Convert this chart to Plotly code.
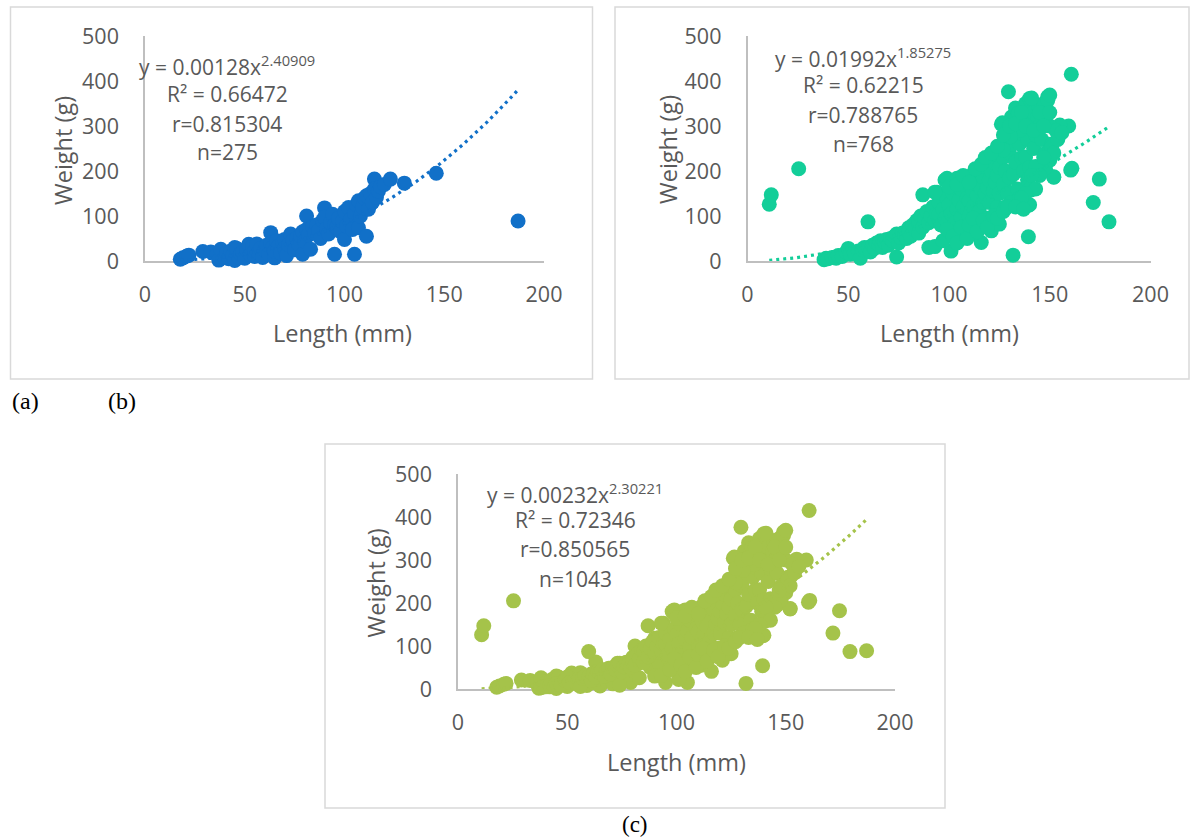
import numpy as np
import plotly.graph_objects as go

# ---- data: length (mm) and weight (g) ----
length_a = [17.7, 19, 21, 22, 29, 33, 36, 37, 38, 40, 41, 42, 43, 44, 45, 45, 46, 47, 48, 49,
            50, 51, 52, 53, 54, 55, 55, 56, 57, 58, 59, 60, 61, 62, 63, 63, 64, 65, 65, 66,
            67, 68, 69, 70, 70, 71, 72, 73, 74, 75, 76, 77, 78, 79, 79, 80, 81, 81, 82, 83,
            84, 85, 86, 87, 88, 89, 90, 90, 91, 92, 93, 94, 95, 95, 96, 97, 98, 99, 100, 100,
            101, 102, 103, 104, 105, 105, 106, 107, 107, 108, 109, 110, 111, 111, 112, 113, 114, 115, 115, 116,
            117, 118, 120, 123, 130, 146, 187]
weight_a = [4, 7, 11, 13, 21, 20, 14, 2, 26, 8, 18, 5, 22, 12, 30, 1, 28, 8, 16, 20,
            6, 25, 37, 14, 33, 10, 22, 38, 18, 28, 8, 24, 35, 15, 63, 40, 30, 7, 22, 45,
            33, 18, 40, 48, 28, 12, 36, 60, 45, 25, 50, 38, 56, 15, 65, 44, 100, 70, 58, 26,
            76, 62, 80, 67, 50, 90, 118, 97, 72, 60, 85, 104, 15, 80, 74, 95, 65, 88, 48, 110,
            78, 119, 92, 70, 15, 105, 125, 74, 134, 100, 120, 140, 55, 145, 115, 150, 130, 182, 160, 141,
            155, 165, 170, 182, 173, 195, 89]

length_b = [10.8, 11.8, 25.4, 59.8, 131.8, 139.4, 129.5, 160.7, 171.6, 174.6, 179.4, 160.4, 159.4, 155,
            38, 39, 40, 42, 44, 45, 47, 49, 50, 51, 53, 55, 56, 57, 58, 60, 61, 62, 63, 64,
            65, 66, 67, 68, 69, 70, 71, 72, 73, 74, 74, 75, 76, 77, 78, 79, 80, 80,
            81, 82, 83, 84, 85, 85, 86, 87, 87, 88, 89, 90, 90, 91, 92, 93, 93, 94, 94, 95,
            95, 96, 97, 98, 98, 99, 100, 100, 101, 101, 102, 103, 103, 104, 105, 105, 106, 106, 107, 108, 108,
            109, 110, 110, 111, 111, 112, 112, 113, 113, 114, 114, 115, 115, 116, 116, 117, 117, 118, 118, 119,
            119, 120, 120, 121, 121, 122, 122, 123, 123, 124, 124, 125, 125, 125,
            126, 126, 127, 127, 128, 128, 129, 129, 130, 130, 131, 131, 132, 132, 133, 133, 134, 134, 135, 135,
            136, 136, 137, 137, 138, 138, 139, 139, 140, 140, 140, 140.7, 141, 142, 142, 143, 144, 144.5, 145, 146,
            147, 148, 148, 149, 149, 150, 150, 151, 152, 153,
            141, 150, 134.5, 148, 151, 150, 152, 147.5, 161, 140.5, 139.5, 127, 135.5, 130.5, 99, 104, 93, 126.5,
            128, 131, 135,
            97, 99, 102, 104, 106, 109, 110, 112, 114, 117, 119, 122, 124, 127, 129,
            100, 104, 107, 110, 113, 116, 118, 121, 124, 127, 130, 133, 136, 138, 142,
            145, 147, 150, 152, 154, 156, 143, 145, 147, 141, 143, 138, 136, 133, 137]
weight_b = [126, 147, 205, 87, 13, 54, 376, 415, 130, 182, 87, 202, 300, 302,
            3, 6, 5, 8, 6, 12, 10, 20, 28, 15, 18, 22, 6, 25, 30, 30, 20, 35, 28, 40,
            38, 45, 30, 42, 48, 35, 50, 45, 55, 9, 60, 40, 52, 62, 58, 50, 74, 65,
            55, 80, 70, 90, 62, 89, 100, 147, 75, 95, 110, 30, 85, 100, 120, 32, 90, 153, 105, 104,
            130, 80, 115, 180, 95, 140, 60, 125, 22, 105, 150, 180, 85, 115, 135, 50, 97, 160, 120, 70, 175,
            140, 134, 100, 190, 60, 155, 120, 186, 85, 145, 170, 110, 200, 41, 160, 130, 185, 150, 210, 164,
            95, 180, 130, 67, 200, 155, 220, 238, 175, 190, 120, 82, 208, 150,
            250, 304, 170, 230, 268, 200, 280, 150, 240, 185, 260, 320, 193, 290, 220, 340, 324, 160, 260, 300,
            283, 230, 310, 200, 231, 350, 270, 180, 208, 361, 125, 158, 300, 250, 330, 280, 320, 345, 300, 270,
            350, 202, 240, 365, 357, 245, 300, 260, 186, 290,
            362, 369, 329, 324, 254, 224, 187, 206, 206, 162, 124, 247, 291, 276, 184, 184, 153, 307,
            120, 130, 140,
            45, 70, 55, 40, 75, 50, 80, 95, 65, 90, 75, 100, 95, 110, 120,
            165, 170, 190, 175, 205, 215, 230, 240, 255, 280, 300, 305, 330, 300, 290,
            330, 300, 330, 240, 270, 285, 210, 190, 230, 190, 160, 150, 140, 120, 115]

# pooled sample (c) = (a) + (b)
length_c = length_a + length_b
weight_c = weight_a + weight_b

# power-law fits  W = a * L^b
fit_a = dict(a=0.00128, b=2.40909, r2="0.66472", r="0.815304", n=275)
fit_b = dict(a=0.01992, b=1.85275, r2="0.62215", r="0.788765", n=768)
fit_c = dict(a=0.00232, b=2.30221, r2="0.72346", r="0.850565", n=1043)

x_ticks = [0, 50, 100, 150, 200]
y_ticks = [0, 100, 200, 300, 400, 500]

COL_A = "#1170C8"
COL_B = "#13CE99"
COL_C = "#A5C34A"

W, H = 1190, 839
def px(x):
    return x / W
def py(y):
    return 1 - y / H

FONT = "Open Sans"
TXT = "#595959"

fig = go.Figure()

panels = [
    # axis suffix, lengths, weights, fit, colour, x-axis px span, y-axis px span
    ("", length_a, weight_a, fit_a, COL_A, (145, 544), (261, 36)),
    ("2", length_b, weight_b, fit_b, COL_B, (747.5, 1150.5), (261, 36)),
    ("3", length_c, weight_c, fit_c, COL_C, (458, 895), (689, 474)),
]

for sfx, xs, ys, fit, col, (xl, xr), (yb, yt) in panels:
    fig.add_trace(go.Scatter(
        x=xs, y=ys, mode="markers", xaxis="x" + sfx, yaxis="y" + sfx,
        marker=dict(size=15, color=col, line=dict(width=0)),
        cliponaxis=False, showlegend=False, hoverinfo="x+y"))
    xt = np.linspace(min(xs), max(xs), 300)
    fig.add_trace(go.Scatter(
        x=xt, y=fit["a"] * xt ** fit["b"], mode="lines", xaxis="x" + sfx, yaxis="y" + sfx,
        line=dict(color=col, width=3.2, dash="3px,4px"),
        cliponaxis=False, showlegend=False, hoverinfo="skip"))

    axis_common = dict(showline=True, linecolor="#BFBFBF", linewidth=1.5, showgrid=False,
                       zeroline=False, ticks="", layer="below traces", automargin=False,
                       tickfont=dict(family=FONT, size=21.5, color=TXT), fixedrange=True)
    fig.update_layout(**{
        "xaxis" + sfx: dict(domain=[px(xl), px(xr)], range=[0, 200], tickvals=x_ticks,
                            anchor="y" + sfx, ticklabelstandoff=13, **axis_common),
        "yaxis" + sfx: dict(domain=[py(yb), py(yt)], range=[0, 500], tickvals=y_ticks,
                            anchor="x" + sfx, ticklabelstandoff=20, **axis_common),
    })

# panel frames
frames = [(10.5, 7, 592.5, 379), (615, 7, 1189, 379), (325, 444, 945, 808)]
for x0, y0, x1, y1 in frames:
    fig.add_shape(type="rect", xref="paper", yref="paper",
                  x0=px(x0), x1=px(x1), y0=py(y1), y1=py(y0),
                  line=dict(color="#D9D9D9", width=1.5), fillcolor="rgba(0,0,0,0)", layer="below")

def note(text, x, y, size=21, color=TXT, family=FONT):
    fig.add_annotation(text=text, x=px(x), y=py(y), xref="paper", yref="paper",
                       xanchor="center", yanchor="middle", showarrow=False,
                       font=dict(family=family, size=size, color=color))

# fit statistics
stats_pos = [(fit_a, 227, (66, 94, 124, 152)),
             (fit_b, 863, (58, 85, 115, 144)),
             (fit_c, 575, (493, 520, 549, 579))]
for fit, cx, (y1, y2, y3, y4) in stats_pos:
    note("y = {:.5f}x<sup>{:.5f}</sup>".format(fit["a"], fit["b"]), cx, y1)
    note("R² = " + fit["r2"], cx, y2)
    note("r=" + fit["r"], cx, y3)
    note("n={}".format(fit["n"]), cx, y4)

# axis titles
for cx, cy in [(343, 333), (949, 333), (676, 762)]:
    note("Length (mm)", cx, cy, size=23.5)
for cx, cy in [(63, 151), (668, 150), (375.5, 583)]:
    fig.add_annotation(text="Weight (g)", x=px(cx), y=py(cy), xref="paper", yref="paper",
                       xanchor="center", yanchor="middle", showarrow=False, textangle=-90,
                       font=dict(family=FONT, size=23.5, color=TXT))

# panel captions
note("(a)", 25, 401, size=24, color="#000000", family="Liberation Serif")
note("(b)", 122, 401, size=24, color="#000000", family="Liberation Serif")
note("(c)", 635, 824, size=23, color="#000000", family="Liberation Serif")

fig.update_layout(width=W, height=H, margin=dict(l=0, r=0, t=0, b=0, autoexpand=False),
                  autosize=False, paper_bgcolor="white", plot_bgcolor="white", showlegend=False)

fig.write_html("out.html")
